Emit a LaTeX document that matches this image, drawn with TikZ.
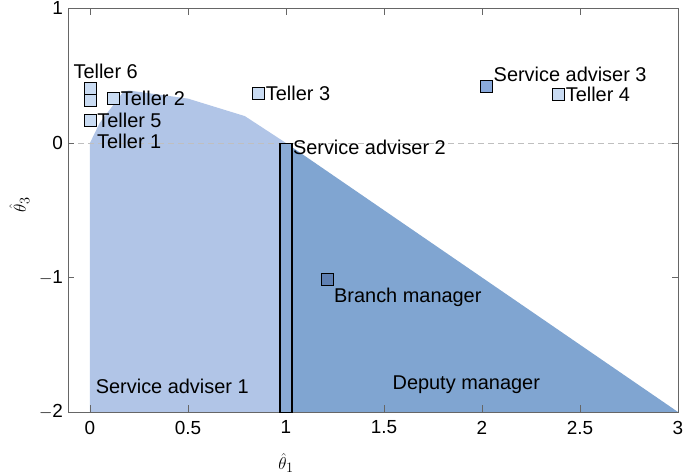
\documentclass[tikz,border=0pt]{standalone}
\usepackage{fontspec}
\setmainfont{Liberation Sans}
\usetikzlibrary{positioning}
\definecolor{lightreg}{HTML}{B1C5E7}
\definecolor{darkreg}{HTML}{80A5D1}
\definecolor{tellerfill}{HTML}{C9DBF2}
\definecolor{adviserfill}{HTML}{8AAADC}
\definecolor{managerfill}{HTML}{5F80B2}
\tikzset{
  pt/.style={draw=black,thin,minimum size=12bp,inner sep=0pt},
  lab/.style={font=\fontsize{20}{22}\selectfont,inner sep=1pt},
  tick/.style={font=\fontsize{19}{21}\selectfont}
}
\begin{document}
\begin{tikzpicture}[x=196bp,y=134.5bp]
\useasboundingbox (-0.459,-2.476) rectangle (3.036,1.063);

% regions
\fill[lightreg] (0,-2)--(0,0)--(0.05,0.15)--(0.17,0.38)--(0.2,0.39)--(0.5,0.33)--(0.79,0.2)--(1,0)--(1,-2)--cycle;
\fill[darkreg] (1,0)--(3,-2)--(1,-2)--cycle;
\draw[gray!50,dash pattern=on 6bp off 4bp] (-0.11,0)--(3,0);

% frame and ticks
\draw[gray!80!black] (-0.11,-2) rectangle (3,1);
\foreach \x in {0,0.5,1,1.5,2,2.5,3} {
  \draw[gray!80!black] (\x,-2)--++(0,0.05) (\x,1)--++(0,-0.05);
  \node[tick,below] at (\x,-2.04) {\x};
}
\foreach \y/\t in {-2/$-$2,-1/$-$1,0/0,1/1} {
  \draw[gray!80!black] (-0.11,\y)--++(0.03,0) (3,\y)--++(-0.03,0);
  \node[tick,left] at (-0.12,\y) {\t};
}
\node[font=\fontsize{19}{21}\selectfont] (xl) at (1,-2.38) {$\hat\theta_1$};
\node[font=\fontsize{19}{21}\selectfont,rotate=90] (yl) at (-0.36,-0.46) {$\hat\theta_3$};

% service adviser 2 band
\node[draw=black,line width=1.4bp,fill=darkreg!80!lightreg,minimum width=12bp,minimum height=269bp,inner sep=0pt,anchor=north] (sa2) at (1,0) {};
\node[lab,anchor=north west] (sa2l) at (1.03,0.03) {Service adviser 2};

% points
\node[pt,fill=tellerfill] (t6a) at (0,0.41) {};
\node[pt,fill=tellerfill] (t6b) at (0,0.32) {};
\node[lab] (t6l) at (0.08,0.53) {Teller 6};
\node[pt,fill=tellerfill] (t2) at (0.12,0.33) {};
\node[lab,right=0pt of t2] (t2l) {Teller 2};
\node[pt,fill=tellerfill] (t5) at (0,0.17) {};
\node[lab,right=0pt of t5] (t5l) {Teller 5};
\node[lab,anchor=west] (t1l) at (0.03,0.01) {Teller 1};
\node[pt,fill=tellerfill] (t3) at (0.86,0.37) {};
\node[lab,right=0pt of t3] (t3l) {Teller 3};
\node[pt,fill=adviserfill] (sa3) at (2.02,0.42) {};
\node[lab,anchor=south] (sa3l) at (2.45,0.45) {Service adviser 3};
\node[pt,fill=tellerfill] (t4) at (2.39,0.36) {};
\node[lab,right=0pt of t4] (t4l) {Teller 4};
\node[pt,fill=managerfill] (bm) at (1.21,-1.01) {};
\node[lab,anchor=west] (bml) at (1.24,-1.15) {Branch manager};
\node[lab] (sa1l) at (0.42,-1.81) {Service adviser 1};
\node[lab] (dml) at (1.92,-1.80) {Deputy manager};
\end{tikzpicture}
\end{document}
